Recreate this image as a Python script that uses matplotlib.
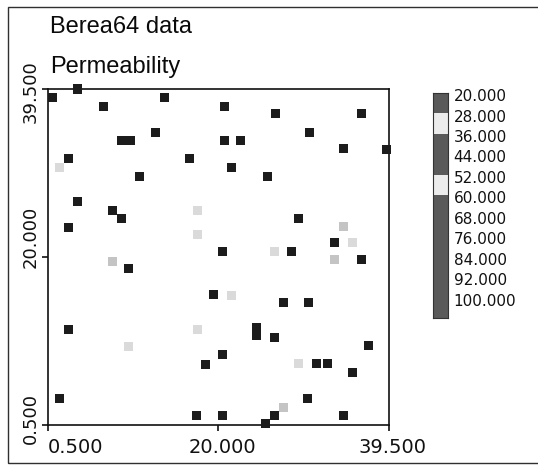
import matplotlib
matplotlib.use("Agg")
import matplotlib.pyplot as plt
from matplotlib.colors import ListedColormap, BoundaryNorm
from matplotlib.patches import Rectangle
from matplotlib.transforms import ScaledTranslation
import numpy as np

# ---- data -------------------------------------------------------------
# grid-cell coordinates of sampled permeability values
x_pos = [0.96, 3.93, 13.88, 6.90, 12.85, 8.85, 9.99, 2.90, 16.74, 10.91,
         3.93, 7.93, 8.85, 2.90, 20.63, 26.57, 36.41, 30.46, 20.63, 22.57,
         34.35, 39.20, 21.54, 25.55, 29.20, 33.21, 20.51, 28.40, 36.30, 9.76,
         19.48, 27.38, 30.35, 2.79, 24.40, 24.40, 26.35, 37.21, 20.51, 18.57,
         31.26, 32.41, 35.27, 30.23, 1.87, 17.54, 20.51, 26.35, 25.43, 34.24,
         1.87, 17.65, 17.65, 34.24, 35.38, 26.46, 33.32, 7.82, 17.65, 9.76,
         21.54, 29.20, 27.38]
y_pos = [38.47, 39.50, 38.47, 37.42, 34.40, 33.47, 33.47, 31.37, 31.37, 29.28,
         26.37, 25.33, 24.40, 23.35, 37.42, 36.60, 36.60, 34.40, 33.47, 33.47,
         32.53, 32.42, 30.33, 29.28, 24.40, 21.60, 20.56, 20.56, 19.63, 18.58,
         15.56, 14.63, 14.63, 11.60, 11.72, 10.79, 10.67, 9.63, 8.58, 7.51,
         7.63, 7.63, 6.60, 3.58, 3.47, 1.60, 1.60, 1.49, 0.67, 1.60,
         30.33, 25.33, 22.53, 23.47, 21.60, 20.56, 19.63, 19.50, 11.60, 9.51,
         15.44, 7.63, 2.53]
perm = [84, 100, 68, 92, 76, 60, 60, 44, 92, 68,
        100, 76, 84, 36, 92, 68, 100, 84, 44, 76,
        60, 92, 68, 100, 44, 76, 84, 92, 60, 100,
        68, 76, 84, 92, 60, 44, 100, 76, 68, 92,
        84, 84, 60, 100, 76, 20, 92, 68, 84, 76,
        52, 52, 52, 28, 52, 52, 28, 28, 52, 52,
        52, 52, 28]

levels = [20, 28, 36, 44, 52, 60, 68, 76, 84, 92, 100]
level_labels = ["20.000", "28.000", "36.000", "44.000", "52.000", "60.000",
                "68.000", "76.000", "84.000", "92.000", "100.000"]
axis_ticks = [0.5, 20.0, 39.5]
axis_tick_labels = ["0.500", "20.000", "39.500"]

# ---- colours ------------------------------------------------------------
DARK, LIGHT_A, LIGHT_B = "#1c1c1c", "#c4c4c4", "#dadada"
level_colors = [DARK, LIGHT_A, DARK, DARK, LIGHT_B, DARK, DARK, DARK, DARK, DARK, DARK]
bar_colors = ["#5a5a5a" if c == DARK else "#ececec" for c in level_colors]
bounds = [levels[0] - 4] + [v + 4 for v in levels]
cmap = ListedColormap(level_colors)
norm = BoundaryNorm(bounds, cmap.N)

W, H = 538, 466
fig = plt.figure(figsize=(W / 100, H / 100), dpi=100)
fig.patch.set_facecolor("white")

# page frame
fig.add_artist(Rectangle((8 / W, 3 / H), 1.2, (463 - 7) / H,
                         transform=fig.transFigure, fill=False,
                         edgecolor="#303030", linewidth=1.0))

fig.text(50 / W, 1 - 33 / H, "Berea64 data", family="Liberation Sans",
         fontsize=17, va="baseline", ha="left", color="#0a0a0a")
fig.text(50 / W, 1 - 73 / H, "Permeability", family="Liberation Sans",
         fontsize=17, va="baseline", ha="left", color="#0a0a0a")

# ---- main map -----------------------------------------------------------
ax = fig.add_axes([48 / W, (H - 424.5) / H, (389 - 48) / W, (424.5 - 89) / H])
ax.scatter(x_pos, y_pos, c=perm, cmap=cmap, norm=norm, marker="s", s=42,
           linewidths=0, zorder=3, clip_on=False)
ax.set_xlim(0.5, 39.5)
ax.set_ylim(0.5, 39.5)
for sp in ax.spines.values():
    sp.set_linewidth(1.2)
    sp.set_color("#111111")
ax.set_xticks(axis_ticks)
ax.set_yticks(axis_ticks)
ax.set_xticklabels(axis_tick_labels, family="DejaVu Sans", fontsize=14)
ax.set_yticklabels(axis_tick_labels, family="DejaVu Sans", fontsize=13,
                   rotation=90, va="center")
ax.tick_params(axis="both", direction="out", length=4, width=1.2,
               color="#111111", labelcolor="#111111")
ax.tick_params(axis="x", pad=6)
ax.tick_params(axis="y", pad=2)

# label placement along the axes
xl = ax.get_xticklabels()
xl[0].set_ha("left")
xl[1].set_transform(xl[1].get_transform() + ScaledTranslation(4 / 100, 0, fig.dpi_scale_trans))
xl[2].set_transform(xl[2].get_transform() + ScaledTranslation(4 / 100, 0, fig.dpi_scale_trans))
yl = ax.get_yticklabels()
for lab, dy in zip(yl, [6, 20, -3]):
    lab.set_transform(lab.get_transform() + ScaledTranslation(0, dy / 100, fig.dpi_scale_trans))

# ---- level key ----------------------------------------------------------
cax = fig.add_axes([433 / W, (H - 318) / H, 15 / W, (318 - 93) / H])
n = len(levels)
cax.pcolormesh([0, 1], np.arange(n + 1), np.arange(n).reshape(-1, 1),
               cmap=ListedColormap(bar_colors), vmin=-0.5, vmax=n - 0.5)
cax.set_xlim(0, 1)
cax.set_ylim(n, 0)
cax.set_xticks([])
cax.yaxis.tick_right()
cax.set_yticks(np.arange(n) + 0.1)
cax.set_yticklabels(level_labels, family="DejaVu Sans", fontsize=11, color="#111111")
cax.tick_params(axis="y", length=0, pad=4)
for sp in cax.spines.values():
    sp.set_linewidth(0.8)
    sp.set_color("#333333")

fig.savefig("out.png", dpi=100, facecolor="white")
